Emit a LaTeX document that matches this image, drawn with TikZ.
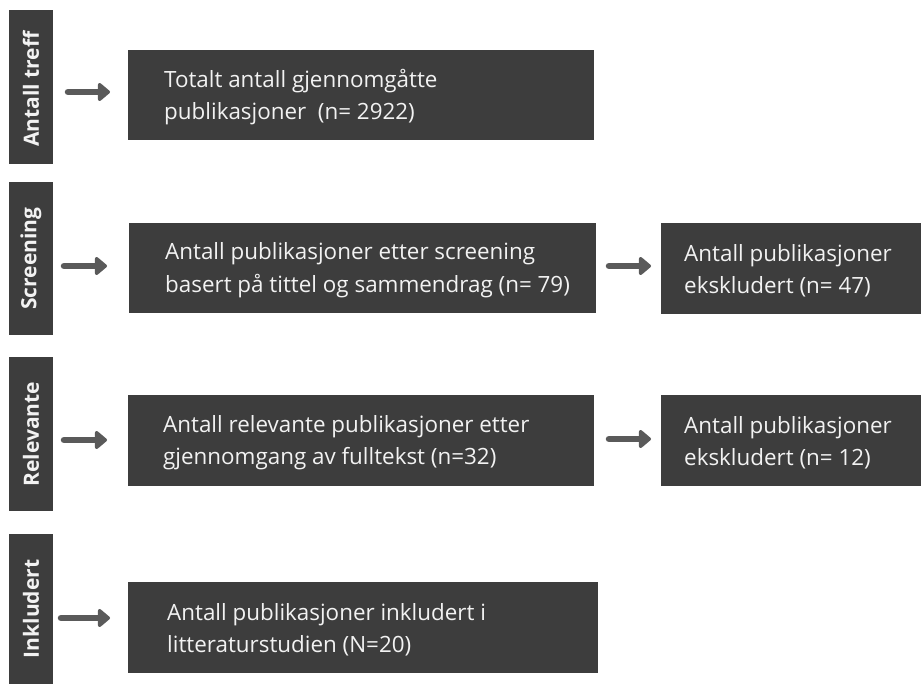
\documentclass[tikz,border=0pt]{standalone}
\usepackage{fontspec}
\setmainfont{Open Sans}
\usetikzlibrary{arrows.meta}
\definecolor{boxfill}{HTML}{3D3D3D}
\definecolor{arrowcol}{HTML}{5A5A5A}
\definecolor{txtcol}{HTML}{F2F2F2}
\tikzset{
  stagelabel/.style={rotate=90, text=txtcol, font=\fontsize{21}{24}\selectfont\bfseries},
  infobox/.style={fill=boxfill, draw=none, anchor=north west, inner sep=0pt},
  boxtext/.style={anchor=west, inner sep=0pt, align=left, text=txtcol,
    font=\fontsize{22.4}{32.5}\selectfont, yshift=-2pt},
  flowarrow/.style={draw=arrowcol, line width=6.5pt, line cap=round,
    -{Triangle[length=13pt,width=21pt,round]}},
}
\begin{document}
\begin{tikzpicture}[x=1pt,y=-1pt]
\useasboundingbox (0,0) rectangle (921,684);
% stage bars
\fill[boxfill] (9,10) rectangle (53,164);
\fill[boxfill] (9,182) rectangle (53,335);
\fill[boxfill] (9,357) rectangle (53,511);
\fill[boxfill] (9,534) rectangle (53,684);
\node[stagelabel] (bar1) at (31,89) {Antall treff};
\node[stagelabel] (bar2) at (31,258.5) {Screening};
\node[stagelabel] (bar3) at (31,434) {Relevante};
\node[stagelabel] (bar4) at (31,609) {Inkludert};
% boxes
\node[infobox, minimum width=466pt, minimum height=90pt] (box1) at (128,50) {};
\node[infobox, minimum width=467pt, minimum height=90pt] (box2) at (129,223) {};
\node[infobox, minimum width=466pt, minimum height=91pt] (box3) at (128,395) {};
\node[infobox, minimum width=470pt, minimum height=91pt] (box4) at (128,582) {};
\node[infobox, minimum width=260pt, minimum height=91pt] (box5) at (661,223) {};
\node[infobox, minimum width=260pt, minimum height=91pt] (box6) at (661,395) {};
% box texts
\node[boxtext, xshift=36pt] (t1) at (box1.west) {Totalt antall gjennomgåtte\\publikasjoner\ \ (n= 2922)};
\node[boxtext, xshift=36pt] (t2) at (box2.west) {Antall publikasjoner etter screening\\basert på tittel og sammendrag (n= 79)};
\node[boxtext, xshift=35pt] (t3) at (box3.west) {Antall relevante publikasjoner etter\\gjennomgang av fulltekst (n=32)};
\node[boxtext, xshift=39pt] (t4) at (box4.west) {Antall publikasjoner inkludert i\\litteraturstudien (N=20)};
\node[boxtext, xshift=23pt] (t5) at (box5.west) {Antall publikasjoner\\ekskludert (n= 47)};
\node[boxtext, xshift=23pt] (t6) at (box6.west) {Antall publikasjoner\\ekskludert (n= 12)};
% arrows
\coordinate (a1s) at (68,92);  \coordinate (a1e) at (110,92);
\coordinate (a2s) at (64,266); \coordinate (a2e) at (107,266);
\coordinate (a3s) at (64,440); \coordinate (a3e) at (107,440);
\coordinate (a4s) at (61,618); \coordinate (a4e) at (110,618);
\coordinate (a5s) at (609,266); \coordinate (a5e) at (651,266);
\coordinate (a6s) at (609,439); \coordinate (a6e) at (651,439);
\draw[flowarrow] (a1s) -- (a1e);
\draw[flowarrow] (a2s) -- (a2e);
\draw[flowarrow] (a3s) -- (a3e);
\draw[flowarrow] (a4s) -- (a4e);
\draw[flowarrow] (a5s) -- (a5e);
\draw[flowarrow] (a6s) -- (a6e);
\end{tikzpicture}
\end{document}
